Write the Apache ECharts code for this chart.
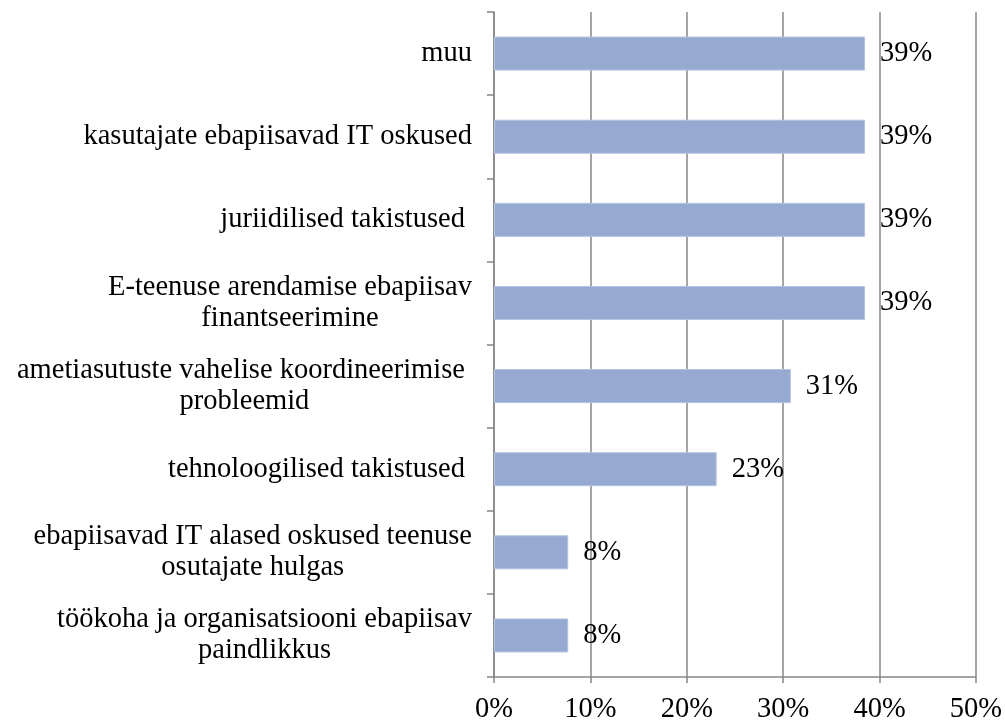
<!DOCTYPE html>
<html>
<head>
<meta charset="utf-8">
<script src="https://cdn.jsdelivr.net/npm/echarts@6/dist/echarts.min.js"></script>
<style>
  html, body { margin: 0; padding: 0; background: #fff; }
  #chart { width: 1005px; height: 724px; }
</style>
</head>
<body>
<div id="chart"></div>
<script>
// categories top to bottom
const categories = [
  'muu',
  'kasutajate ebapiisavad IT oskused',
  'juriidilised takistused ',
  'E-teenuse arendamise ebapiisav\nfinantseerimine',
  'ametiasutuste vahelise koordineerimise \nprobleemid',
  'tehnoloogilised takistused ',
  'ebapiisavad IT alased oskused teenuse\nosutajate hulgas',
  'töökoha ja organisatsiooni ebapiisav\npaindlikkus'
];
// share of respondents, %
const values = [38.5, 38.5, 38.5, 38.5, 30.8, 23.1, 7.7, 7.7];
const xTicks = [0, 10, 20, 30, 40, 50];

const font = 'Liberation Serif';
const gray = '#878787';

const chart = echarts.init(document.getElementById('chart'));
chart.setOption({
  animation: false,
  grid: {
    left: 494,
    right: 28,
    top: 12,
    bottom: 44,
    containLabel: false
  },
  xAxis: {
    type: 'value',
    min: xTicks[0],
    max: xTicks[xTicks.length - 1],
    interval: 10,
    axisLine: { show: true, lineStyle: { color: gray, width: 1.5 } },
    axisTick: { show: true, length: 6, lineStyle: { color: gray, width: 1.5 } },
    splitLine: { show: true, lineStyle: { color: gray, width: 1.5 } },
    axisLabel: {
      color: '#000',
      fontFamily: font,
      fontSize: 28.5,
      margin: 18,
      formatter: v => v + '%'
    }
  },
  yAxis: {
    type: 'category',
    inverse: true,
    data: categories,
    axisLine: { show: true, lineStyle: { color: gray, width: 1.5 } },
    axisTick: { show: true, length: 7, lineStyle: { color: gray, width: 1.5 } },
    axisLabel: {
      margin: 22,
      align: 'right',
      formatter: v => v.split('\n').map(s => '{c|' + s + '}').join('\n'),
      rich: {
        c: {
          align: 'center',
          color: '#000',
          fontFamily: font,
          fontSize: 28.5,
          lineHeight: 31
        }
      }
    }
  },
  series: [
    {
      type: 'bar',
      data: values,
      barWidth: 34,
      itemStyle: { color: '#95a9d1', borderColor: '#b4c3e0', borderWidth: 1 },
      label: {
        show: true,
        position: 'right',
        distance: 15,
        color: '#000',
        fontFamily: font,
        fontSize: 28.5,
        formatter: p => Math.round(p.value) + '%'
      }
    }
  ]
});
</script>
</body>
</html>
